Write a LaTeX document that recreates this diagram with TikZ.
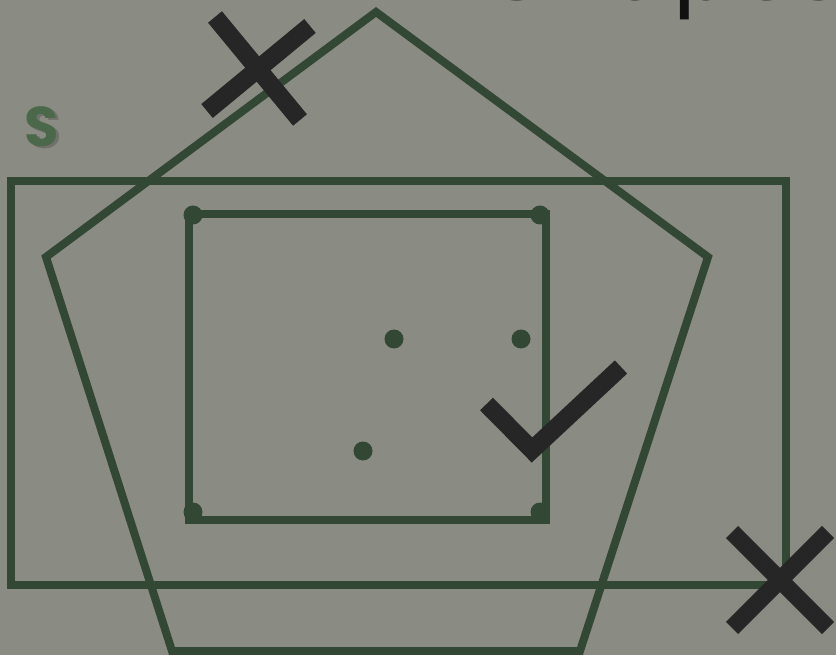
\documentclass[tikz,border=0pt]{standalone}
\usepackage{fontspec}
\newfontfamily\titlefont{DejaVu Sans}
\newfontfamily\labelfont{Poppins}
\definecolor{bgc}{RGB}{138,139,131}
\definecolor{linec}{RGB}{50,71,52}
\definecolor{markc}{RGB}{38,38,38}
\definecolor{labelc}{RGB}{76,104,74}
\definecolor{shadowc}{RGB}{112,113,107}
\definecolor{titlec}{RGB}{17,17,17}
\tikzset{
  shapeline/.style={draw=linec, line width=8pt, line join=miter},
  dotnode/.style={circle, fill=linec, minimum size=19pt, inner sep=0pt},
  markline/.style={draw=markc, line width=18pt, line cap=butt, line join=miter},
  titletext/.style={anchor=base west, inner sep=0pt, text=titlec, font=\titlefont\fontsize{98}{98}\selectfont},
  labeltext/.style={inner sep=0pt, font=\labelfont\bfseries\fontsize{56}{56}\selectfont}
}
\begin{document}
\begin{tikzpicture}[x=1pt,y=-1pt]
\useasboundingbox (0,0) rectangle (836,655);
\clip (0,0) rectangle (836,655);
\fill[bgc] (0,0) rectangle (836,655);
% title (cut off at the top)
\node[titletext] (title) at (487,0) {Shapes};
% label S with soft shadow
\node[labeltext, text=labelc] (slabel) at (42,128) {\rlap{\kern2.5pt\raisebox{-2.5pt}{\textcolor{shadowc}{S}}}S};
% outer rectangle
\draw[shapeline] (11,181) rectangle (786,585);
% pentagon
\draw[shapeline] (376,12) -- (708,257) -- (580,651) -- (172,651) -- (46,257) -- cycle;
% inner square
\draw[shapeline] (189,214) rectangle (546,520);
% dots
\node[dotnode] (d1) at (193,215) {};
\node[dotnode] (d2) at (540,215) {};
\node[dotnode] (d3) at (193,512) {};
\node[dotnode] (d4) at (540,512) {};
\node[dotnode] (d5) at (394,339) {};
\node[dotnode] (d6) at (521,339) {};
\node[dotnode] (d7) at (363,451) {};
% check mark
\draw[markline] (486.5,404) -- (532,450) -- (621,367);
% cross bottom right
\draw[markline, line width=17pt] (732,532) -- (828,628);
\draw[markline, line width=17pt] (828,532) -- (732,628);
% cross top
\draw[markline] (215,17) -- (300,120);
\draw[markline] (310,26) -- (207,111);
\end{tikzpicture}
\end{document}
